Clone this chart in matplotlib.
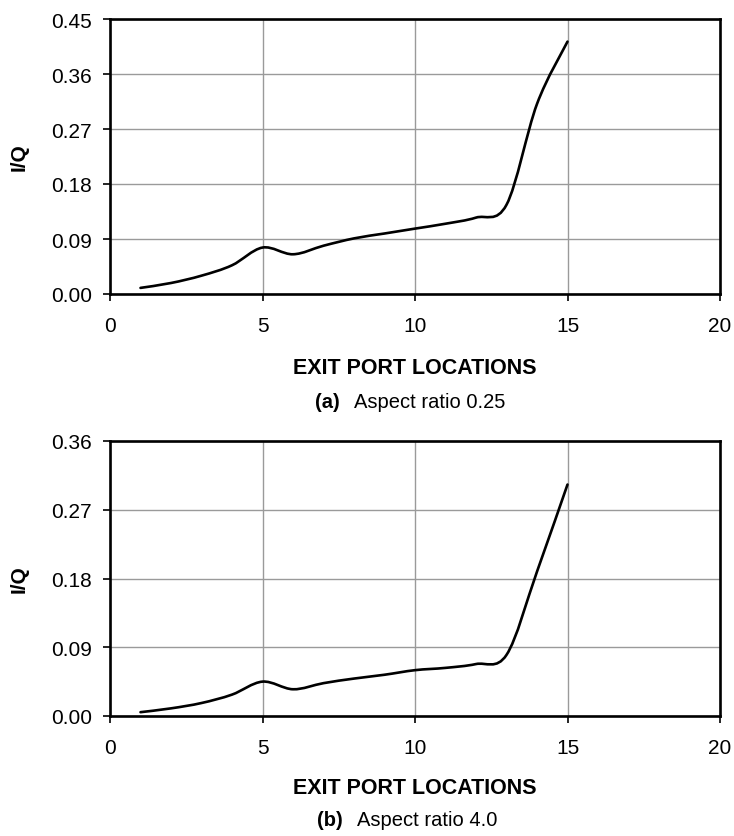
import numpy as np
import matplotlib
matplotlib.use("Agg")
import matplotlib.pyplot as plt
from matplotlib.path import Path
from matplotlib.patches import PathPatch

plt.rcParams['font.family'] = ['Liberation Sans', 'DejaVu Sans']

# Exit port index and dimensionless flow I/Q for the two aspect ratios
ports = [1, 2, 3, 4, 5, 6, 7, 8, 9, 10, 11, 12, 13, 14, 15]
iq_ar025 = [0.010, 0.018, 0.030, 0.047, 0.076, 0.065, 0.079, 0.091,
            0.099, 0.107, 0.115, 0.125, 0.146, 0.311, 0.413]
iq_ar40 = [0.005, 0.010, 0.017, 0.028, 0.045, 0.035, 0.043, 0.049,
           0.054, 0.060, 0.063, 0.068, 0.080, 0.189, 0.303]

yticks_a = [0.00, 0.09, 0.18, 0.27, 0.36, 0.45]
yticks_b = [0.00, 0.09, 0.18, 0.27, 0.36]
xticks = [0, 5, 10, 15, 20]
captions = [("(a)", "Aspect ratio 0.25"), ("(b)", "Aspect ratio 4.0")]


def smooth_path(xs, ys):
    """Cubic Bezier path through the points (Catmull-Rom style tangents)."""
    p = np.column_stack([xs, ys]).astype(float)
    n = len(p)
    verts = [p[0]]
    codes = [Path.MOVETO]
    for i in range(n - 1):
        p0 = p[i - 1] if i > 0 else p[i]
        p1 = p[i]
        p2 = p[i + 1]
        p3 = p[i + 2] if i + 2 < n else p[i + 1]
        c1 = p1 + (p2 - p0) / 6.0
        c2 = p2 - (p3 - p1) / 6.0
        verts += [c1, c2, p2]
        codes += [Path.CURVE4] * 3
    return Path(verts, codes)


W, H = 734, 837
fig = plt.figure(figsize=(W / 100, H / 100), dpi=100)

panels = [
    dict(rect=[110 / W, 1 - 295 / H, 610 / W, 275 / H], y=iq_ar025,
         yticks=yticks_a, xlab_y=369, cap_y=403, cap_x=(315, 354)),
    dict(rect=[110 / W, 1 - 717 / H, 610 / W, 275 / H], y=iq_ar40,
         yticks=yticks_b, xlab_y=789, cap_y=821, cap_x=(317, 357)),
]

for panel, (tag, text) in zip(panels, captions):
    ax = fig.add_axes(panel["rect"])
    ax.set_xlim(0, 20)
    ax.set_ylim(panel["yticks"][0], panel["yticks"][-1])
    ax.set_xticks(xticks)
    ax.set_yticks(panel["yticks"])
    ax.set_yticklabels([f"{v:.2f}" for v in panel["yticks"]])
    ax.grid(True, color="#9a9a9a", linewidth=1.0)
    ax.set_axisbelow(True)
    for s in ax.spines.values():
        s.set_linewidth(1.9)
        s.set_color("black")
    ax.tick_params(direction="out", length=5, width=1.2, labelsize=15,
                   colors="black")
    ax.tick_params(axis="y", pad=8)
    ax.tick_params(axis="x", pad=11)

    patch = PathPatch(smooth_path(ports, panel["y"]), facecolor="none",
                      edgecolor="black", linewidth=1.9, capstyle="round",
                      joinstyle="round")
    ax.add_patch(patch)

    ax.set_ylabel("I/Q", fontsize=15, fontweight="bold")
    ax.yaxis.set_label_coords(-81 / 610, 0.5)

    fig.text(415 / W, 1 - panel["xlab_y"] / H, "EXIT PORT LOCATIONS",
             ha="center", va="center", fontsize=15.5, fontweight="bold")
    fig.text(panel["cap_x"][0] / W, 1 - panel["cap_y"] / H, tag,
             ha="left", va="center", fontsize=14.5, fontweight="bold")
    fig.text(panel["cap_x"][1] / W, 1 - panel["cap_y"] / H, text,
             ha="left", va="center", fontsize=14.5)

fig.savefig("out.png", dpi=100)
